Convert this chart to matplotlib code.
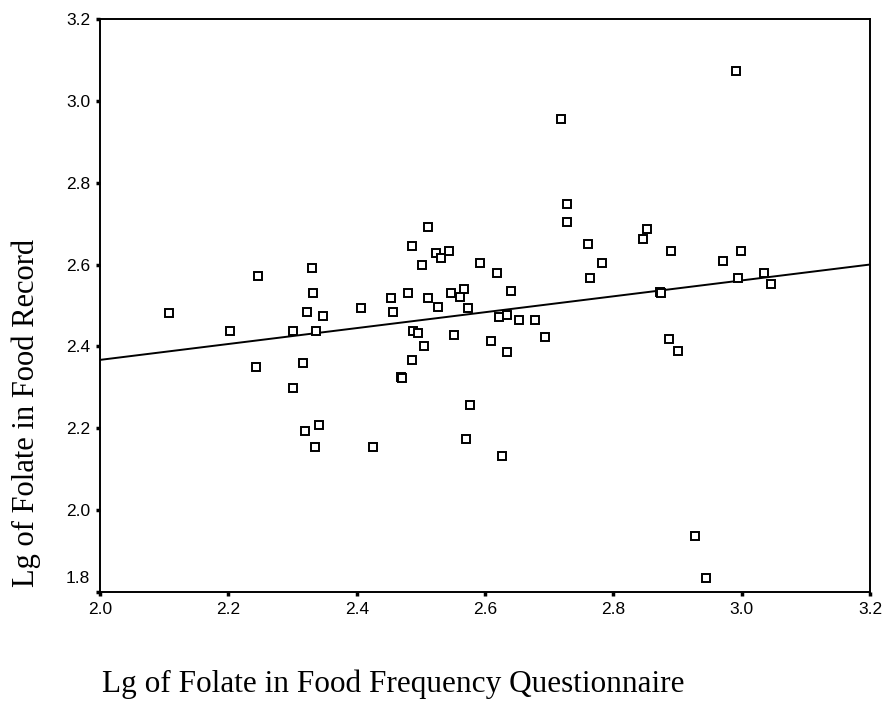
import numpy as np
import matplotlib
matplotlib.use('Agg')
import matplotlib.pyplot as plt
import matplotlib.transforms as mtransforms

# values
ffq = [2.107, 2.203, 2.246, 2.243, 2.300, 2.300, 2.317, 2.320, 2.323, 2.330,
       2.332, 2.336, 2.335, 2.342, 2.348, 2.407, 2.425, 2.453, 2.456, 2.480,
       2.486, 2.486, 2.488, 2.496, 2.469, 2.470, 2.501, 2.505, 2.511, 2.511,
       2.524, 2.531, 2.544, 2.526, 2.547, 2.551, 2.568, 2.561, 2.573, 2.577,
       2.570, 2.592, 2.609, 2.619, 2.622, 2.634, 2.634, 2.626, 2.640, 2.653,
       2.678, 2.693, 2.718, 2.727, 2.727, 2.760, 2.764, 2.783, 2.846, 2.853,
       2.872, 2.874, 2.890, 2.887, 2.900, 2.928, 2.945, 2.971, 2.991, 2.999,
       2.995, 3.034, 3.046]
record = [2.481, 2.438, 2.572, 2.350, 2.437, 2.299, 2.359, 2.193, 2.483, 2.591,
          2.530, 2.438, 2.155, 2.207, 2.474, 2.494, 2.155, 2.517, 2.483, 2.530,
          2.645, 2.367, 2.438, 2.433, 2.326, 2.322, 2.599, 2.401, 2.691, 2.517,
          2.628, 2.617, 2.633, 2.497, 2.530, 2.428, 2.539, 2.520, 2.493, 2.257,
          2.174, 2.604, 2.414, 2.579, 2.471, 2.477, 2.386, 2.132, 2.535, 2.464,
          2.464, 2.424, 2.956, 2.747, 2.705, 2.651, 2.566, 2.603, 2.663, 2.687,
          2.532, 2.530, 2.632, 2.418, 2.389, 1.937, 1.834, 2.608, 3.072, 2.632,
          2.566, 2.580, 2.552]

# fitted line, ends read at x = 2.0 and x = 3.2
line_x = [2.0, 3.2]
line_y = [2.367, 2.600]

xticks = [2.0, 2.2, 2.4, 2.6, 2.8, 3.0, 3.2]
yticks = [1.8, 2.0, 2.2, 2.4, 2.6, 2.8, 3.0, 3.2]

fig = plt.figure(figsize=(8.83, 7.03), dpi=100)
ax = fig.add_axes([0.1133, 0.158, 0.872, 0.815])

ax.plot(line_x, line_y, color='black', lw=1.4, zorder=2)
ax.plot(ffq, record, ls='none', marker='s', ms=6.3, mfc='white',
        mec='black', mew=1.4, zorder=3)

ax.set_xlim(2.0, 3.2)
ax.set_ylim(1.8, 3.2)
ax.set_xticks(xticks)
ax.set_yticks(yticks)
ax.set_xticklabels(['%.1f' % v for v in xticks])
ax.set_yticklabels(['%.1f' % v for v in yticks])
ax.tick_params(direction='out', length=3, width=2.5, labelsize=12.5,
               pad=4)
for lab in ax.get_xticklabels() + ax.get_yticklabels():
    lab.set_fontfamily('Liberation Sans')
for sp in ax.spines.values():
    sp.set_linewidth(1.4)

# the 1.8 label sits a little above its tick in the original
lab18 = ax.get_yticklabels()[0]
lab18.set_transform(lab18.get_transform() +
                    mtransforms.ScaledTranslation(0, 15 / 100, fig.dpi_scale_trans))

fig.text(0.115, 0.016, 'Lg of Folate in Food Frequency Questionnaire',
         family='Liberation Serif', fontsize=22.5, ha='left', va='baseline')
fig.text(0.03, 0.413, 'Lg of Folate in Food Record', family='Liberation Serif',
         fontsize=22, rotation=90, ha='center', va='center')

fig.savefig('out.png', dpi=100)
